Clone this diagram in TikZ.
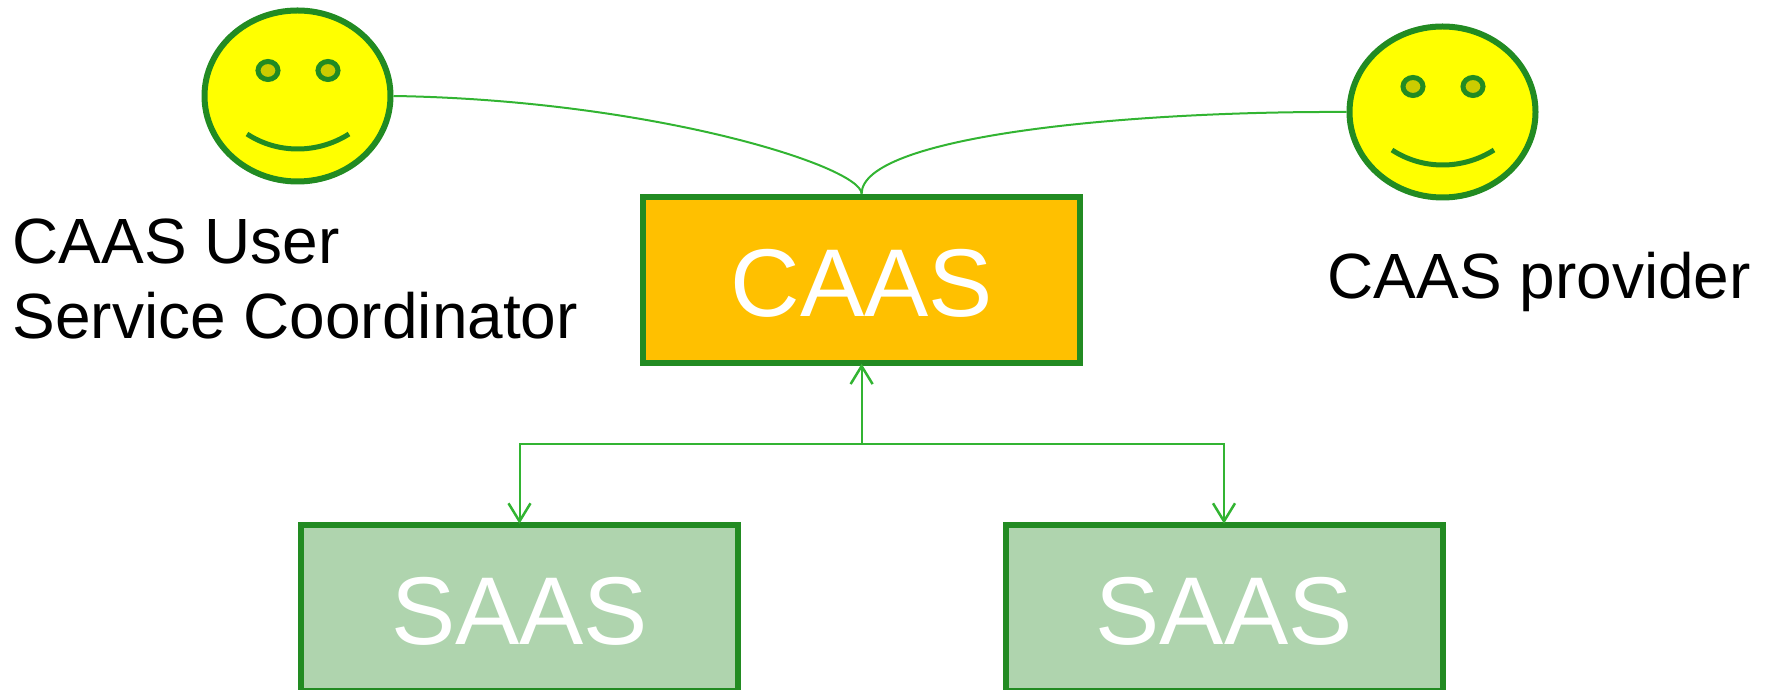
\documentclass[tikz,border=0pt]{standalone}
\usepackage{fontspec}
\setmainfont{Liberation Sans}
\usetikzlibrary{shapes.geometric, arrows.meta}
\definecolor{edgegreen}{RGB}{34,139,34}
\definecolor{linkgreen}{RGB}{50,180,50}
\definecolor{faceyellow}{RGB}{255,255,0}
\definecolor{eyeolive}{RGB}{204,204,0}
\definecolor{caasorange}{RGB}{255,192,0}
\definecolor{saasgreen}{RGB}{175,212,174}
\tikzset{
	servicebox/.style = {draw=edgegreen, line width=0.6mm, minimum width=4.37cm, minimum height=1.66cm,
		text=white, text height=0.74cm, font=\fontsize{27.4}{30}\selectfont},
	link/.style = {linkgreen, line width=0.2mm},
	rolelabel/.style = {inner sep=0, align=left, font=\fontsize{18.2}{21.5}\selectfont},
	smiley/.pic = {
		\node (face) [ellipse, draw=edgegreen, fill=faceyellow, line width=0.6mm, inner sep=0,
			minimum width=1.86cm, minimum height=1.71cm] at (0,0) {};
		\draw [edgegreen, line width=0.5mm, fill=eyeolive] (-0.295,0.255) ellipse (0.1 and 0.09);
		\draw [edgegreen, line width=0.5mm, fill=eyeolive] (0.305,0.255) ellipse (0.1 and 0.09);
		\draw [edgegreen, line width=0.5mm] (-0.505,-0.38) .. controls (-0.2,-0.58) and (0.2,-0.58) .. (0.515,-0.38);
	}
}

\begin{document}
\begin{tikzpicture}[> = {Straight Barb[length=1.8mm, width=2.2mm, line width=0.25mm]}]
	\useasboundingbox (0,0) rectangle (17.72,6.9);
	
	\pic (user) at (2.975,5.94) {smiley};
	\pic (provider) at (14.425,5.78) {smiley};
	
	\node (userlabel) [rolelabel, anchor=north west] at (0.12,4.72) {CAAS User\\Service Coordinator};
	\node (providerlabel) [rolelabel, anchor=base west] at (13.27,3.91) {CAAS provider};
	
	\node (caas) [servicebox, fill=caasorange] at (8.616,4.103) {CAAS};
	\node (saasleft) [servicebox, fill=saasgreen] at (5.195,0.823) {SAAS};
	\node (saasright) [servicebox, fill=saasgreen] at (12.24,0.823) {SAAS};
	
	\draw [link] (userface.east) .. controls (6.5,5.9) and (8.61,5.24) .. (caas.north);
	\draw [link] (providerface.west) .. controls (11.2,5.79) and (8.62,5.53) .. (caas.north);
	
	\coordinate (split) at (8.616,2.46);
	\draw [link, ->, shorten >=-0.2mm] (split) -- (caas.south);
	\draw [link, ->, shorten >=-0.2mm] (split) -| (saasleft.north);
	\draw [link, ->, shorten >=-0.2mm] (split) -| (saasright.north);
\end{tikzpicture}
\end{document}
